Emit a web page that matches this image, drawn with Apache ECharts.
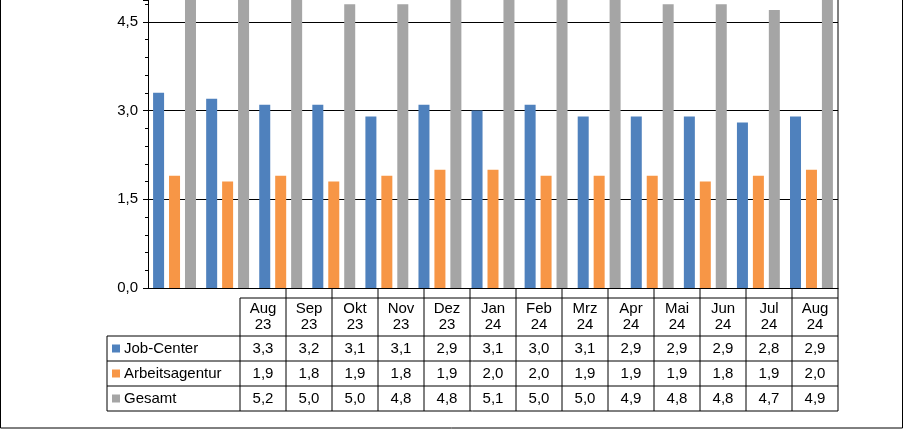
<!DOCTYPE html>
<html>
<head>
<meta charset="utf-8">
<script src="https://cdn.jsdelivr.net/npm/echarts@6/dist/echarts.min.js"></script>
<style>html,body{margin:0;padding:0;background:#fff}#main{width:904px;height:430px}</style>
</head>
<body>
<div id="main"></div>
<script>
var months = ['Aug\n23', 'Sep\n23', 'Okt\n23', 'Nov\n23', 'Dez\n23', 'Jan\n24', 'Feb\n24', 'Mrz\n24', 'Apr\n24', 'Mai\n24', 'Jun\n24', 'Jul\n24', 'Aug\n24'];
var seriesNames = ['Job-Center', 'Arbeitsagentur', 'Gesamt'];
var jobCenter = [3.3, 3.2, 3.1, 3.1, 2.9, 3.1, 3.0, 3.1, 2.9, 2.9, 2.9, 2.8, 2.9];
var arbeitsagentur = [1.9, 1.8, 1.9, 1.8, 1.9, 2.0, 2.0, 1.9, 1.9, 1.9, 1.8, 1.9, 2.0];
var gesamt = [5.2, 5.0, 5.0, 4.8, 4.8, 5.1, 5.0, 5.0, 4.9, 4.8, 4.8, 4.7, 4.9];
var colors = ['#4f81bd', '#f79646', '#a5a5a5'];

var myChart = echarts.init(document.getElementById('main'));
var font = 'Liberation Sans, Arial, sans-serif';
var fmt = function (v) { return v.toFixed(1).replace('.', ','); };

// Datentabelle unter dem Diagramm
var tblLeft = 240, tblRight = 838, labLeft = 107;
var colW = (tblRight - tblLeft) / months.length;
var rowY = [298, 336, 361, 386, 411];
var g = [];
var line = function (x1, y1, x2, y2) {
    g.push({type: 'line', shape: {x1: x1, y1: y1, x2: x2, y2: y2}, style: {stroke: '#000', lineWidth: 1}});
};
line(tblLeft, rowY[0], tblRight, rowY[0]);
for (var r = 1; r < rowY.length; r++) line(labLeft, rowY[r], tblRight, rowY[r]);
line(labLeft, rowY[1], labLeft, rowY[4]);
for (var c = 0; c <= months.length; c++) {
    var x = tblLeft + c * colW;
    line(x, c === 0 ? rowY[0] : 288, x, rowY[4]);
}
line(tblRight, 0, tblRight, 288);
months.forEach(function (m, i) {
    g.push({type: 'text', x: tblLeft + (i + 0.5) * colW, y: (rowY[0] + rowY[1]) / 2,
        style: {text: m, font: '15px ' + font, fill: '#000', align: 'center', verticalAlign: 'middle', lineHeight: 16}});
});
[jobCenter, arbeitsagentur, gesamt].forEach(function (vals, s) {
    var cy = (rowY[s + 1] + rowY[s + 2]) / 2;
    g.push({type: 'rect', shape: {x: 112, y: cy - 4, width: 8, height: 8}, style: {fill: colors[s]}});
    g.push({type: 'text', x: 124, y: cy, style: {text: seriesNames[s], font: '15px ' + font, fill: '#000', verticalAlign: 'middle'}});
    vals.forEach(function (v, i) {
        g.push({type: 'text', x: tblLeft + (i + 0.5) * colW, y: cy,
            style: {text: fmt(v), font: '15px ' + font, fill: '#000', align: 'center', verticalAlign: 'middle'}});
    });
});
g.push({type: 'rect', shape: {x: 0.5, y: -5, width: 902, height: 433}, style: {fill: 'none', stroke: '#000', lineWidth: 1}});

var option = {
    animation: false,
    textStyle: {fontFamily: font},
    grid: {left: 148, right: 66, top: 0, bottom: 142},
    xAxis: {
        type: 'category',
        data: months,
        axisLine: {lineStyle: {color: '#000'}},
        axisTick: {show: false},
        axisLabel: {show: false}
    },
    yAxis: {
        type: 'value',
        min: 0, max: 4.87, interval: 1.5,
        axisLine: {show: true, lineStyle: {color: '#000'}},
        axisTick: {show: true, length: 5, lineStyle: {color: '#000'}},
        minorTick: {show: true, splitNumber: 5, length: 3, lineStyle: {color: '#000'}},
        splitLine: {showMaxLine: false, lineStyle: {color: '#000'}},
        axisLabel: {color: '#000', fontSize: 15, margin: 10, showMaxLabel: false,
            formatter: function (v) { return Math.abs(v / 1.5 - Math.round(v / 1.5)) < 1e-6 ? fmt(v) : ''; }}
    },
    series: [
        {name: seriesNames[0], type: 'bar', data: jobCenter, barWidth: 11, barGap: '45%', barCategoryGap: '20%', itemStyle: {color: colors[0]}},
        {name: seriesNames[1], type: 'bar', data: arbeitsagentur, barWidth: 11, barGap: '45%', itemStyle: {color: colors[1]}},
        {name: seriesNames[2], type: 'bar', data: gesamt, barWidth: 11, barGap: '45%', clip: true, itemStyle: {color: colors[2]}}
    ],
    graphic: g
};
myChart.setOption(option);
</script>
</body>
</html>
